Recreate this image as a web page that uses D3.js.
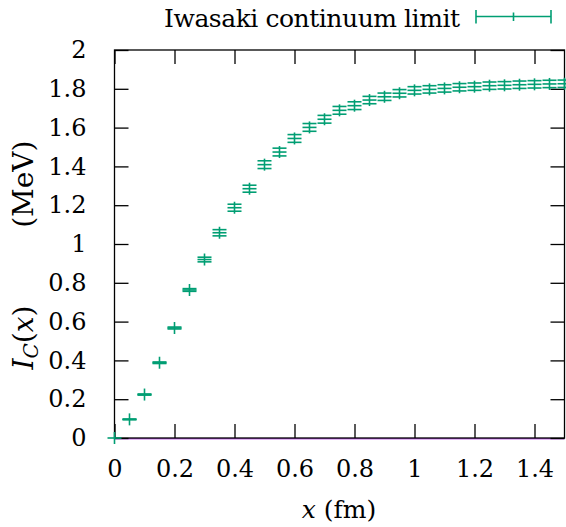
<!DOCTYPE html>
<html>
<head>
<meta charset="utf-8">
<script src="https://cdn.jsdelivr.net/npm/d3@7"></script>
<style>
  html, body { margin: 0; padding: 0; background: #fff; }
  svg { display: block; }
</style>
</head>
<body>
<svg id="chart" width="566" height="527"></svg>
<script>
// Separation x (fm)
const xValues = [0.00, 0.05, 0.10, 0.15, 0.20, 0.25, 0.30, 0.35, 0.40, 0.45,
                 0.50, 0.55, 0.60, 0.65, 0.70, 0.75, 0.80, 0.85, 0.90, 0.95,
                 1.00, 1.05, 1.10, 1.15, 1.20, 1.25, 1.30, 1.35, 1.40, 1.45, 1.50];
// I_C(x) in MeV, Iwasaki continuum limit
const icValues = [0.000, 0.096, 0.224, 0.388, 0.567, 0.763, 0.920, 1.058, 1.187, 1.285,
                  1.409, 1.474, 1.544, 1.601, 1.643, 1.689, 1.713, 1.742, 1.759, 1.777,
                  1.792, 1.797, 1.802, 1.808, 1.811, 1.816, 1.818, 1.821, 1.823, 1.825, 1.826];
// Statistical uncertainty in MeV
const icErrors = [0.000, 0.002, 0.003, 0.004, 0.005, 0.007, 0.012, 0.016, 0.018, 0.018,
                  0.020, 0.020, 0.020, 0.020, 0.020, 0.020, 0.020, 0.019, 0.019, 0.019,
                  0.019, 0.019, 0.019, 0.019, 0.019, 0.019, 0.019, 0.019, 0.019, 0.019, 0.019];

const xTicks = [0, 0.2, 0.4, 0.6, 0.8, 1.0, 1.2, 1.4];
const yTicks = [0, 0.2, 0.4, 0.6, 0.8, 1.0, 1.2, 1.4, 1.6, 1.8, 2.0];
const seriesName = "Iwasaki continuum limit";

const green = "#009e73";
const serif = "'DejaVu Serif', 'Liberation Serif', 'Times New Roman', serif";
const svg = d3.select("#chart").attr("font-family", serif);

const plotLeft = 114.5, plotRight = 564.5, plotTop = 50, plotBottom = 438;
const x = d3.scaleLinear().domain([0, 1.5]).range([plotLeft, plotRight]);
const y = d3.scaleLinear().domain([0, 2]).range([plotBottom, plotTop]);

const fmt = d => (d === 0 ? "0" : d3.format("~g")(d));
const tickLen = 14;

// zero line of the function axis
svg.append("line")
  .attr("x1", plotLeft).attr("x2", plotRight)
  .attr("y1", y(0) + 0.8).attr("y2", y(0) + 0.8)
  .attr("stroke", "#9400d3").attr("stroke-width", 1);

// frame
svg.append("rect")
  .attr("x", plotLeft).attr("y", plotTop)
  .attr("width", plotRight - plotLeft).attr("height", plotBottom - plotTop)
  .attr("fill", "none").attr("stroke", "#000").attr("stroke-width", 1.3);

// axes with inward ticks, mirrored on opposite sides
const axB = d3.axisBottom(x).tickValues(xTicks).tickSizeInner(-tickLen).tickSizeOuter(0).tickFormat(fmt).tickPadding(22);
const axT = d3.axisTop(x).tickValues(xTicks).tickSizeInner(-tickLen).tickSizeOuter(0).tickFormat("");
const axL = d3.axisLeft(y).tickValues(yTicks).tickSizeInner(-tickLen).tickSizeOuter(0).tickFormat(fmt).tickPadding(28);
const axR = d3.axisRight(y).tickValues(yTicks).tickSizeInner(-tickLen).tickSizeOuter(0).tickFormat("");

function styleAxis(g) {
  g.attr("font-family", serif).attr("font-size", 24);
  g.select(".domain").remove();
  g.selectAll(".tick line").attr("stroke", "#000").attr("stroke-width", 1.3);
  g.selectAll(".tick text").attr("fill", "#000");
}
svg.append("g").attr("transform", `translate(0,${plotBottom})`).call(axB).call(styleAxis)
  .selectAll(".tick text").attr("dy", "0.71em");
svg.append("g").attr("transform", `translate(0,${plotTop})`).call(axT).call(styleAxis);
svg.append("g").attr("transform", `translate(${plotLeft},0)`).call(axL).call(styleAxis);
svg.append("g").attr("transform", `translate(${plotRight},0)`).call(axR).call(styleAxis);

// error bars with '+' point markers
const pts = xValues.map((xv, i) => ({ x: xv, v: icValues[i], e: icErrors[i] }));
const capW = 7, plusW = 7, plusH = 6;
const g = svg.append("g").attr("stroke", green).attr("stroke-width", 1.6).attr("fill", "none");
pts.forEach(p => {
  const cx = x(p.x), cy = y(p.v), yt = y(p.v + p.e), yb = y(p.v - p.e);
  g.append("line").attr("x1", cx).attr("x2", cx)
    .attr("y1", Math.min(yt, cy - plusH)).attr("y2", Math.max(yb, cy + plusH));
  g.append("line").attr("x1", cx - plusW).attr("x2", cx + plusW).attr("y1", cy).attr("y2", cy);
  if (p.e > 0) {
    g.append("line").attr("x1", cx - capW).attr("x2", cx + capW).attr("y1", yt).attr("y2", yt);
    g.append("line").attr("x1", cx - capW).attr("x2", cx + capW).attr("y1", yb).attr("y2", yb);
  }
});

// legend
svg.append("text").attr("x", 460).attr("y", 27).attr("text-anchor", "end")
  .attr("font-family", serif).attr("font-size", 25)
  .attr("textLength", 296).attr("lengthAdjust", "spacing")
  .text(seriesName);
const lg = svg.append("g").attr("stroke", green).attr("stroke-width", 1.6);
lg.append("line").attr("x1", 476).attr("x2", 551).attr("y1", 16.5).attr("y2", 16.5);
lg.append("line").attr("x1", 476).attr("x2", 476).attr("y1", 10).attr("y2", 23.5);
lg.append("line").attr("x1", 551).attr("x2", 551).attr("y1", 10).attr("y2", 23.5);
lg.append("line").attr("x1", 513.5).attr("x2", 513.5).attr("y1", 12.5).attr("y2", 21);

// axis titles
const xTitle = svg.append("text").attr("x", 339).attr("y", 518).attr("text-anchor", "middle")
  .attr("font-family", serif).attr("font-size", 25);
xTitle.append("tspan").attr("font-style", "italic").text("x");
xTitle.append("tspan").text(" (fm)");

// rotated y title: symbol part from the bottom, unit part ending at the top
const yTitle = svg.append("g").attr("transform", "translate(33,253.5) rotate(-90)")
  .attr("font-family", serif).attr("font-size", 28);
const sym = yTitle.append("text").attr("x", -116).attr("y", 0).attr("text-anchor", "start");
sym.append("tspan").attr("font-style", "italic").text("I");
sym.append("tspan").attr("font-style", "italic").attr("font-size", 20).attr("dy", 5).text("C");
sym.append("tspan").attr("dy", -5).text("(");
sym.append("tspan").attr("font-style", "italic").text("x");
sym.append("tspan").text(")");
yTitle.append("text").attr("x", 113).attr("y", 0).attr("text-anchor", "end").text("(MeV)");
</script>
</body>
</html>
